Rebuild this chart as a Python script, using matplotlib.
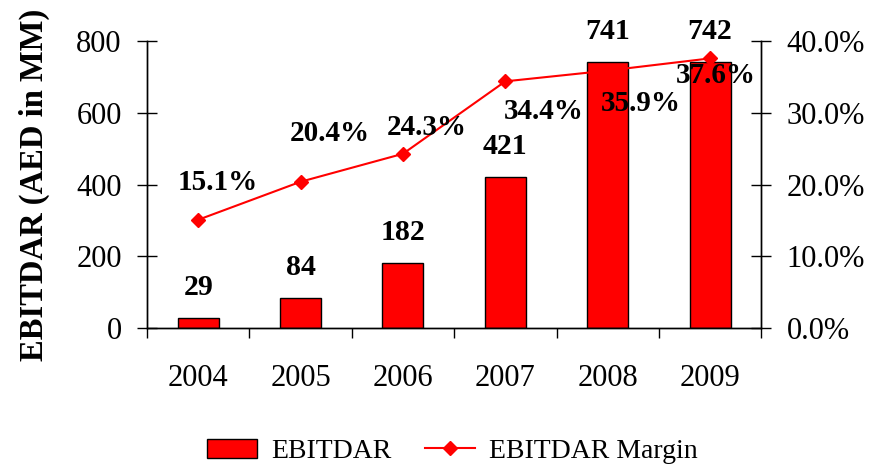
import matplotlib.pyplot as plt
from matplotlib.ticker import FuncFormatter

years = ["2004", "2005", "2006", "2007", "2008", "2009"]
ebitdar = [29, 84, 182, 421, 741, 742]
margin = [15.1, 20.4, 24.3, 34.4, 35.9, 37.6]

# label offsets in points (dx, dy) for margin labels
margin_offsets = [(14, 27), (21, 35), (17, 19), (28, -22), (24, -24), (4, -12)]

plt.rcParams["font.family"] = ["Liberation Serif", "DejaVu Serif"]

fig = plt.figure(figsize=(8.7, 4.68), dpi=100)
ax = fig.add_axes([0.169, 0.299, 0.706, 0.613])
ax2 = ax.twinx()

x = list(range(len(years)))
bars = ax.bar(x, ebitdar, width=0.4, color="#ff0000", edgecolor="black",
              linewidth=1, label="EBITDAR", zorder=2)
line, = ax2.plot(x, margin, color="#ff0000", marker="D", markersize=7,
                 linewidth=1.5, label="EBITDAR Margin", zorder=3)

ax.set_xlim(-0.5, len(years) - 0.5)
ax.set_ylim(0, 800)
ax2.set_ylim(0, 40)
ax.set_yticks([0, 200, 400, 600, 800])
ax2.set_yticks([0, 10, 20, 30, 40])
ax2.yaxis.set_major_formatter(FuncFormatter(lambda v, p: f"{v:.1f}%"))

# category labels centred, ticks on boundaries
ax.set_xticks(x)
ax.set_xticklabels(years, fontsize=22)
ax.tick_params(axis="x", which="major", length=0, pad=26)
ax.set_xticks([i + 0.5 for i in range(-1, len(years))], minor=True)
ax.tick_params(axis="x", which="minor", length=7.5, direction="out", width=1)

ax.tick_params(axis="y", direction="inout", length=14.4, width=1, labelsize=22, pad=11)
ax2.tick_params(axis="y", direction="inout", length=14.4, width=1, labelsize=22, pad=11)

for a in (ax, ax2):
    a.spines["top"].set_visible(False)
    for s in ("left", "right", "bottom"):
        a.spines[s].set_linewidth(1)

ax.set_ylabel("EBITDAR (AED in MM)", fontsize=23.5, fontweight="bold", labelpad=19)

for xi, v in zip(x, ebitdar):
    ax.annotate(f"{v}", (xi, v), xytext=(0, 22), textcoords="offset points",
                ha="center", va="center", fontsize=21.5, fontweight="bold")

for xi, v, (dx, dy) in zip(x, margin, margin_offsets):
    ax2.annotate(f"{v:.1f}%", (xi, v), xytext=(dx, dy), textcoords="offset points",
                 ha="center", va="center", fontsize=21, fontweight="bold", zorder=5)

fig.legend(handles=[bars, line], labels=["EBITDAR", "EBITDAR Margin"],
           loc="lower center", bbox_to_anchor=(0.52, -0.045), ncol=2, frameon=False,
           fontsize=20, handlelength=1.8, columnspacing=1.2, handletextpad=0.5)

fig.savefig("out.png", dpi=100)
